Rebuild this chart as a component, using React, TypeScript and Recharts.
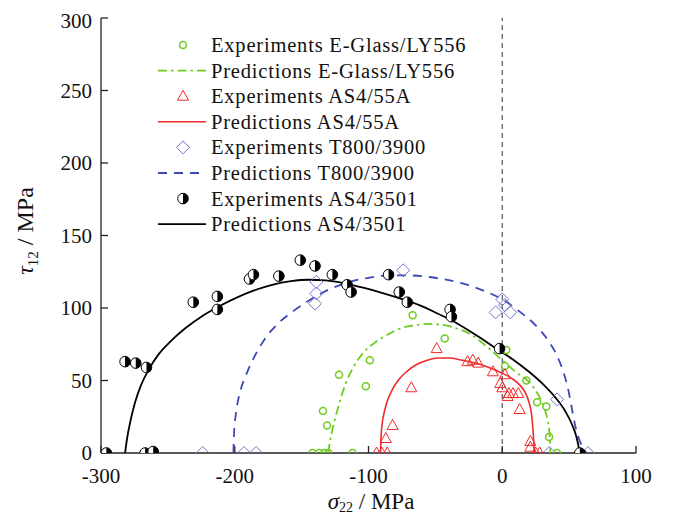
import React from 'react';
import { ScatterChart, Scatter, XAxis, YAxis, ReferenceLine, Legend } from 'recharts';

const FONT = 'Liberation Serif, Tinos, Times New Roman, DejaVu Serif, serif';

const xTicks = [-300, -200, -100, 0, 100];
const yTicks = [0, 50, 100, 150, 200, 250, 300];

const GREEN = '#6FCC1E';
const RED = '#F02A2A';
const BLUE_M = '#7474CC';
const BLUE_L = '#3A48B8';

const glassExp = [
  { x: -142, y: 0 }, { x: -137, y: 0 }, { x: -133, y: 0 }, { x: -130, y: 0 }, { x: -112, y: 0 },
  { x: -131, y: 19 }, { x: -134, y: 29 }, { x: -122, y: 54 }, { x: -102, y: 46 }, { x: -99, y: 64 },
  { x: -67, y: 95 }, { x: -43, y: 79 }, { x: 3, y: 71 }, { x: 2, y: 60 }, { x: 18, y: 50 },
  { x: 26, y: 35 }, { x: 33, y: 32 }, { x: 35, y: 11 }, { x: 41, y: 0 },
];
const glassPred = [
  { x: -130, y: 0 }, { x: -129, y: 7 }, { x: -127, y: 16 }, { x: -124, y: 27 }, { x: -121, y: 37 },
  { x: -117, y: 48 }, { x: -112, y: 58 }, { x: -104, y: 69 }, { x: -94, y: 77 }, { x: -85, y: 82 },
  { x: -76, y: 86 }, { x: -66, y: 88 }, { x: -56, y: 89 }, { x: -46, y: 88.5 }, { x: -36, y: 86.5 },
  { x: -24, y: 82 }, { x: -11, y: 73 }, { x: 0, y: 64 }, { x: 10, y: 56 }, { x: 21, y: 48 },
  { x: 27, y: 40 }, { x: 31, y: 32 }, { x: 34, y: 22 }, { x: 35.5, y: 12 }, { x: 36, y: 0 },
];
const as55Exp = [
  { x: -94, y: 0 }, { x: -90, y: 0 }, { x: -86, y: 0 }, { x: -87, y: 10 }, { x: -82, y: 19 },
  { x: -68, y: 45 }, { x: -49, y: 72 }, { x: -26, y: 63 }, { x: -22, y: 64 }, { x: -18, y: 62 },
  { x: -7, y: 56 }, { x: -1.5, y: 48 }, { x: 2, y: 54 }, { x: 0, y: 45 }, { x: 5, y: 41 },
  { x: 8, y: 41 }, { x: 12, y: 41 }, { x: 4, y: 39 }, { x: 13, y: 30 }, { x: 21, y: 8 },
  { x: 21, y: 4 }, { x: 25, y: 0 }, { x: 28, y: 0 },
];
const as55Pred = [
  { x: -91, y: 0 }, { x: -90.7, y: 10 }, { x: -89.8, y: 20 }, { x: -88, y: 29 }, { x: -85.5, y: 37 },
  { x: -82, y: 44 }, { x: -77, y: 51 }, { x: -71, y: 56.5 }, { x: -64, y: 61 }, { x: -56, y: 64 },
  { x: -48, y: 65.5 }, { x: -40, y: 65.5 }, { x: -30, y: 64 }, { x: -20, y: 62 }, { x: -10, y: 59 },
  { x: 0, y: 55 }, { x: 7, y: 51.5 }, { x: 13, y: 47 }, { x: 17, y: 42 }, { x: 20, y: 35 },
  { x: 22, y: 26 }, { x: 23, y: 16 }, { x: 23.6, y: 7 }, { x: 24, y: 0 },
];
const t800Exp = [
  { x: -224, y: 0 }, { x: -193, y: 0 }, { x: -184, y: 0 }, { x: -139, y: 118 }, { x: -139, y: 110 },
  { x: -140, y: 103 }, { x: -74, y: 126 }, { x: 0, y: 106 }, { x: 2, y: 102 }, { x: -5, y: 97 },
  { x: 6, y: 97 }, { x: 41, y: 37 }, { x: 35, y: 0 }, { x: 64, y: 0 },
];
const t800Pred = [
  { x: -201, y: 0 }, { x: -200.5, y: 14 }, { x: -199, y: 28 }, { x: -196, y: 42 }, { x: -191, y: 55 },
  { x: -185, y: 67 }, { x: -178, y: 78 }, { x: -168, y: 89 }, { x: -156, y: 98 }, { x: -143, y: 106 },
  { x: -129, y: 113 }, { x: -114, y: 118 }, { x: -99, y: 121 }, { x: -84, y: 122.5 }, { x: -70, y: 122.5 },
  { x: -56, y: 121.5 }, { x: -42, y: 119.5 }, { x: -28, y: 116.5 }, { x: -14, y: 112 }, { x: 0, y: 106 },
  { x: 13, y: 97.5 }, { x: 25, y: 88 }, { x: 34, y: 78 }, { x: 41, y: 67 }, { x: 46, y: 55 },
  { x: 49.5, y: 43 }, { x: 52, y: 31 }, { x: 55, y: 17 }, { x: 58.5, y: 7 }, { x: 63, y: 0 },
];
const as3501Exp = [
  { x: -296, y: 0 }, { x: -282, y: 63 }, { x: -274, y: 62 }, { x: -266, y: 59 }, { x: -267, y: 0 },
  { x: -261, y: 1 }, { x: -231, y: 104 }, { x: -213, y: 108 }, { x: -213, y: 99 }, { x: -189, y: 120 },
  { x: -186, y: 123 }, { x: -167, y: 122 }, { x: -151, y: 133 }, { x: -140, y: 129 }, { x: -127, y: 123 },
  { x: -116, y: 116 }, { x: -113, y: 111 }, { x: -85, y: 123 }, { x: -77, y: 111 }, { x: -71, y: 104 },
  { x: -39, y: 99 }, { x: -38, y: 94 }, { x: -2, y: 72 }, { x: 58, y: 0 },
];
const as3501Pred = [
  { x: -282, y: 0 }, { x: -280.5, y: 10 }, { x: -278, y: 22 }, { x: -274.5, y: 35 }, { x: -270, y: 47 },
  { x: -264, y: 58 }, { x: -257, y: 68 }, { x: -248, y: 77 }, { x: -237, y: 86 }, { x: -225, y: 94 },
  { x: -212, y: 101 }, { x: -199, y: 107 }, { x: -186, y: 112 }, { x: -172, y: 116 }, { x: -158, y: 118.5 },
  { x: -145, y: 119.5 }, { x: -132, y: 119 }, { x: -118, y: 117 }, { x: -104, y: 114 }, { x: -90, y: 110.5 },
  { x: -76, y: 106.5 }, { x: -62, y: 102 }, { x: -48, y: 96 }, { x: -34, y: 89.5 }, { x: -20, y: 81.5 },
  { x: -6, y: 73 }, { x: 8, y: 64.5 }, { x: 20, y: 56 }, { x: 31, y: 47 }, { x: 40, y: 38 },
  { x: 47, y: 29 }, { x: 52, y: 20 }, { x: 55.5, y: 11 }, { x: 58, y: 0 },
];

const legendLabels = [
  'Experiments E-Glass/LY556',
  'Predictions E-Glass/LY556',
  'Experiments AS4/55A',
  'Predictions AS4/55A',
  'Experiments T800/3900',
  'Predictions T800/3900',
  'Experiments AS4/3501',
  'Predictions AS4/3501',
];

const CircleMark = (cx: number, cy: number) => (
  <circle cx={cx} cy={cy} r={3.5} fill="none" stroke={GREEN} strokeWidth={1.5} />
);
const TriMark = (cx: number, cy: number) => (
  <path d={`M${cx},${cy - 6}L${cx + 5.5},${cy + 4}L${cx - 5.5},${cy + 4}Z`} fill="none" stroke={RED} strokeWidth={1} />
);
const DiaMark = (cx: number, cy: number) => (
  <path d={`M${cx},${cy - 6.5}L${cx + 6.5},${cy}L${cx},${cy + 6.5}L${cx - 6.5},${cy}Z`} fill="none" stroke={BLUE_M} strokeWidth={1} />
);
const HalfMark = (cx: number, cy: number) => (
  <g>
    <circle cx={cx} cy={cy} r={5.3} fill="#fff" stroke="#000" strokeWidth={1} />
    <path d={`M${cx},${cy - 5.3}A5.3,5.3 0 0,1 ${cx},${cy + 5.3}Z`} fill="#000" />
  </g>
);

const shapeOf = (fn: (cx: number, cy: number) => React.ReactElement) => (p: any) =>
  p.cx == null ? <g /> : fn(p.cx, p.cy);
const NoShape = () => <g />;

const LegendBox = () => {
  const rowH = 25.6;
  const lines: any[] = [
    { mark: CircleMark },
    { stroke: GREEN, dash: '9 4 2.5 4', w: 1.8 },
    { mark: TriMark },
    { stroke: RED, w: 1.6 },
    { mark: DiaMark },
    { stroke: BLUE_L, dash: '9 7', w: 1.8 },
    { mark: HalfMark },
    { stroke: '#000', w: 1.8 },
  ];
  return (
    <svg width={340} height={215} style={{ display: 'block' }}>
      {lines.map((l, i) => {
        const cy = 15 + i * rowH;
        return (
          <g key={i}>
            {l.mark
              ? l.mark(43, cy)
              : <line x1={18} x2={66} y1={cy} y2={cy} stroke={l.stroke} strokeWidth={l.w} strokeDasharray={l.dash} />}
            <text x={71} y={cy + 7} style={{ fontFamily: FONT, letterSpacing: 0.8 }} fontSize={20.5} fill="#111">{legendLabels[i]}</text>
          </g>
        );
      })}
    </svg>
  );
};

const YLabel = () => (
  <text transform="translate(25,223) rotate(-90)" textAnchor="middle" style={{ fontFamily: FONT }} fontSize={24} fill="#111">
    <tspan fontStyle="italic">τ</tspan>
    <tspan fontSize={15} dy={5}>12</tspan>
    <tspan dy={-5}> / MPa</tspan>
  </text>
);
const XLabel = () => (
  <text x={363} y={501} textAnchor="middle" style={{ fontFamily: FONT }} fontSize={23} fill="#111">
    <tspan fontStyle="italic">σ</tspan>
    <tspan fontSize={14} dy={3}>22</tspan>
    <tspan dy={-3}> / MPa</tspan>
  </text>
);

export default function App() {
  const tickStyle = { fontFamily: FONT, fontSize: 21, fill: '#111' };
  const axisStroke = { stroke: '#222', strokeWidth: 1.3 };
  return (
    <div style={{ fontFamily: FONT }}>
      <ScatterChart width={661} height={506} margin={{ top: 10, right: 33, left: 0, bottom: 0 }} style={{ fontFamily: FONT }}>
        <XAxis
          xAxisId="b" type="number" dataKey="x" domain={[-300, 100]} ticks={xTicks} allowDataOverflow
          orientation="bottom" height={61} tickSize={-7} tickMargin={22} tick={tickStyle}
          axisLine={axisStroke} tickLine={axisStroke}
          label={<XLabel />}
        />
        <XAxis
          xAxisId="t" type="number" dataKey="x" domain={[-300, 100]} ticks={xTicks} allowDataOverflow
          orientation="top" height={0} tickSize={-7} tick={false}
          axisLine={axisStroke} tickLine={axisStroke}
        />
        <YAxis
          yAxisId="l" type="number" dataKey="y" domain={[0, 300]} ticks={yTicks} allowDataOverflow
          orientation="left" width={93} tickSize={-7} tickMargin={16} tick={tickStyle}
          axisLine={axisStroke} tickLine={axisStroke}
          label={<YLabel />}
        />
        <YAxis
          yAxisId="r" type="number" dataKey="y" domain={[0, 300]} ticks={yTicks} allowDataOverflow
          orientation="right" width={0} tickSize={-7} tick={false}
          axisLine={axisStroke} tickLine={axisStroke}
        />
        <ReferenceLine xAxisId="b" yAxisId="l" x={0} stroke="#555" strokeWidth={1.2} strokeDasharray="5 4" />

        <Scatter xAxisId="t" yAxisId="r" data={glassPred} shape={NoShape} isAnimationActive={false} legendType="none" />

        <Scatter xAxisId="b" yAxisId="l" data={t800Pred} shape={NoShape} line={{ stroke: BLUE_L, strokeWidth: 1.8, strokeDasharray: '9 7' }} lineJointType="monotoneX" isAnimationActive={false} />
        <Scatter xAxisId="b" yAxisId="l" data={as3501Pred} shape={NoShape} line={{ stroke: '#000', strokeWidth: 1.8 }} lineJointType="monotoneX" isAnimationActive={false} />
        <Scatter xAxisId="b" yAxisId="l" data={glassPred} shape={NoShape} line={{ stroke: GREEN, strokeWidth: 1.8, strokeDasharray: '9 4 2.5 4' }} lineJointType="monotoneX" isAnimationActive={false} />
        <Scatter xAxisId="b" yAxisId="l" data={as55Pred} shape={NoShape} line={{ stroke: RED, strokeWidth: 1.6 }} lineJointType="monotoneX" isAnimationActive={false} />

        <Scatter xAxisId="b" yAxisId="l" data={t800Exp} shape={shapeOf(DiaMark)} isAnimationActive={false} />
        <Scatter xAxisId="b" yAxisId="l" data={glassExp} shape={shapeOf(CircleMark)} isAnimationActive={false} />
        <Scatter xAxisId="b" yAxisId="l" data={as55Exp} shape={shapeOf(TriMark)} isAnimationActive={false} />
        <Scatter xAxisId="b" yAxisId="l" data={as3501Exp} shape={shapeOf(HalfMark)} isAnimationActive={false} />

        <Legend
          layout="vertical" align="center" verticalAlign="middle"
          wrapperStyle={{ position: 'absolute', left: 132, top: 22, width: 340, height: 215 }}
          content={() => <LegendBox />}
        />
      </ScatterChart>
    </div>
  );
}
